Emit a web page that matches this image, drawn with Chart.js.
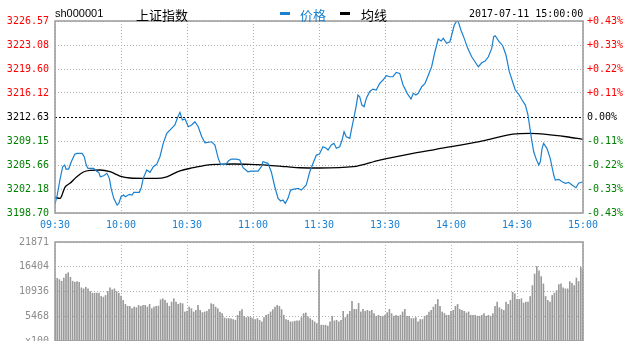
<!DOCTYPE html>
<html><head><meta charset="utf-8">
<script src="https://cdn.jsdelivr.net/npm/chart.js@4.4.1/dist/chart.umd.min.js"></script>
<style>
html,body{margin:0;padding:0;background:#fff;overflow:hidden;width:633px;height:341px;}
#wrap{position:relative;width:633px;height:341px;overflow:hidden;background:#fff;}
canvas{position:absolute;left:0;}
.t{position:absolute;white-space:nowrap;line-height:1;}
.bar{position:absolute;height:3px;width:10px;}
</style></head><body>
<div id="wrap">
<canvas id="pc" width="633" height="236" style="top:0;width:633px;height:236px"></canvas>
<canvas id="vc" width="633" height="125" style="top:230px;width:633px;height:125px"></canvas>
<div class="t" style="left:55px;top:7px;font:11px 'Liberation Sans',Arial,sans-serif;color:#000">sh000001</div>
<div class="t" style="left:136px;top:5px;font:13px 'Noto Sans CJK SC',sans-serif;color:#000">上证指数</div>
<div class="bar" style="left:280px;top:12px;background:#1a80d0"></div>
<div class="t" style="left:300px;top:5px;font:13px 'Noto Sans CJK SC',sans-serif;color:#1a80d0">价格</div>
<div class="bar" style="left:340px;top:12px;background:#000"></div>
<div class="t" style="left:361px;top:5px;font:13px 'Noto Sans CJK SC',sans-serif;color:#000">均线</div>
<div class="t" style="left:469px;top:8px;font:10px 'DejaVu Sans Mono',monospace;color:#000">2017-07-11 15:00:00</div>
</div>
<script>
// ---------- data ----------
const timeTicks = [0, 30, 60, 90, 120, 150, 180, 210, 240];
const timeLabels = ['09:30', '10:00', '10:30', '11:00', '11:30', '13:30', '14:00', '14:30', '15:00'];

const prevClose = 3212.63;
const priceTicks = [3198.70, 3202.18, 3205.66, 3209.15, 3212.63, 3216.12, 3219.60, 3223.08, 3226.57];
const priceTickLabels = ['3198.70', '3202.18', '3205.66', '3209.15', '3212.63', '3216.12', '3219.60', '3223.08', '3226.57'];
const pctTickLabels = ['-0.43%', '-0.33%', '-0.22%', '-0.11%', '0.00%', '+0.11%', '+0.22%', '+0.33%', '+0.43%'];

const priceMin = [0,1,2.4,3.5,4.4,5,6.2,7.4,9,10,12.3,13.3,14.2,15,17.6,18.8,19.9,20.6,22.1,23.6,24.7,25.5,26.7,28.2,29,30,31.2,32,33.8,35,35.8,38.3,39.2,40.1,41.7,43.2,44.7,46.2,47.7,49.2,50.8,53,54.5,55.6,56.8,57.9,59.1,60.6,62.1,63.6,65.1,66.7,68.2,71.2,72.7,74.2,75.3,77.7,78.8,80.1,82.4,84,85.5,87.7,89.2,92.3,93.8,94.5,96.8,98.3,99.9,101.4,102.6,103.6,104.7,105.9,107.1,108.2,110.5,112,114.2,115.8,117.3,118.8,120.2,121.8,123.3,124.1,125.6,126.8,127.9,129.4,130.5,131.4,132.4,134,134.7,135.8,136.7,137.7,138.5,139.5,140.5,141.5,143,144.5,146,147.6,149.1,150.6,152.1,153.6,155.1,156.7,158.2,160.1,161.8,162.9,164,165.1,166.7,168.2,169.4,171.2,172.7,174.2,175.5,176.5,178,179.5,180.3,181.5,182.6,183.3,184.5,186,187.6,189.4,190.9,192.4,194,195.5,197,198.5,199.4,200.1,201.7,203.5,205,206.5,208,209.2,210.8,212.3,213.8,215,216,216.8,217.6,218.6,219.9,220.6,221.4,222.1,223.6,225.1,226.7,227.4,229,230.5,232,233.5,235,236.8,238,240];
const priceVal = [3200.00,3201.31,3203.78,3205.42,3205.66,3205.08,3205.08,3206.14,3207.22,3207.36,3207.36,3206.87,3205.66,3205.18,3205.18,3204.79,3204.60,3203.96,3204.11,3204.46,3203.73,3202.28,3200.83,3199.86,3200.10,3201.06,3201.31,3201.06,3201.41,3201.31,3201.70,3201.70,3202.37,3203.73,3204.94,3204.60,3205.42,3205.76,3206.87,3208.81,3210.26,3210.99,3211.47,3212.44,3213.31,3212.19,3212.34,3211.22,3211.47,3211.95,3211.22,3209.77,3208.90,3209.04,3208.57,3206.63,3205.76,3205.76,3206.24,3206.53,3206.53,3206.39,3205.27,3204.69,3204.79,3204.79,3205.42,3206.14,3205.91,3204.69,3202.51,3200.83,3200.44,3200.58,3200.10,3200.83,3202.03,3202.13,3202.28,3202.03,3202.76,3204.69,3205.91,3207.11,3207.26,3208.32,3208.09,3207.84,3208.57,3208.81,3208.09,3208.32,3209.29,3210.50,3209.77,3209.54,3210.74,3212.44,3213.89,3215.82,3215.58,3214.37,3214.13,3215.34,3216.30,3216.69,3216.55,3217.52,3218.00,3218.63,3218.48,3218.48,3219.12,3218.97,3217.28,3216.07,3215.24,3216.07,3215.82,3216.07,3217.03,3217.52,3218.48,3219.93,3222.11,3223.95,3223.66,3224.05,3223.33,3223.56,3224.53,3225.98,3226.57,3226.47,3225.26,3224.05,3222.60,3221.38,3220.66,3219.93,3220.51,3220.76,3221.38,3222.60,3224.29,3224.43,3223.66,3222.98,3221.63,3219.21,3217.75,3216.55,3215.93,3215.10,3214.37,3212.92,3210.74,3209.04,3207.59,3206.63,3205.66,3206.14,3208.09,3208.81,3208.09,3206.63,3204.21,3203.48,3203.59,3203.24,3203.01,3203.15,3202.76,3202.37,3203.01,3203.24];

const avgMin = [0,2.3,4.5,6.8,9.9,12.9,15.9,20.5,25,29.5,34.1,40.1,46.2,50.8,56.8,62.9,69,75,81,88.6,96.2,105.3,111.4,120.1,135.5,147.6,162.7,180.1,196,208.2,215.8,223.3,232.4,240];
const avgVal = [3200.97,3200.83,3202.43,3203.01,3203.96,3204.65,3204.89,3204.94,3204.69,3204.07,3203.78,3203.73,3203.73,3203.96,3204.83,3205.27,3205.66,3205.76,3205.81,3205.76,3205.66,3205.42,3205.27,3205.23,3205.42,3206.39,3207.36,3208.32,3209.29,3210.16,3210.26,3210.12,3209.77,3209.39];

const volTicks = [0, 5468, 10936, 16404, 21871];
const volTickLabels = ['x100', '5468', '10936', '16404', '21871'];
const volMorning = [13341,13852,13560,13195,13925,
14799,15091,14070,13195,12977,13123,12977,11738,11519,11883,
11519,10936,10571,10571,10571,10571,9842,9696,10061,10936,
11738,11300,11519,10936,10571,9915,8967,8092,7655,7655,
7145,7509,7363,7874,7655,7874,7874,7509,8092,7145,
7509,7655,7728,9113,9332,8967,8384,7655,8603,9332,
8603,8092,8384,8238,6415,6634,7509,7145,6415,6780,
7874,6780,6270,6415,6561,6999,8238,8092,7509,7145,
6415,6051,5103,4957,4957,4884,4739,4593,5686,6561,
6926,5468,5176,5322,5176,4957,4739,4957,4593,4228,
5176,5686,5905,6415,6926,7509,7874,7655,6926,5686,
4739,4593,4228,4228,4374,4447,4447,5176,6051,6197,
5322,4957,4593,4228,3864];
const volMidday = 15747;
const volAfternoon = [3499,3499,3499,3281,4228,5468,4447,4593,4228,4593,
6561,5176,5905,6561,8748,6999,6999,8311,6415,6999,
6561,6780,6561,6780,6051,5468,5686,5468,5468,5686,
6270,6999,6051,5468,5686,5468,5686,6415,6999,5468,
5468,4957,4957,5176,4228,4739,4739,5468,5686,6415,
6780,7509,8092,9186,7655,6415,6051,5686,5686,6561,
6780,7655,8092,6999,6780,6561,6197,6415,5686,5686,
5686,5468,5468,5686,6051,5468,5686,5468,6051,7655,
8603,7363,6999,6780,8603,8092,8967,10790,10425,9186,
9186,9332,8384,8603,8603,9842,12248,14799,16476,15528,
14216,12612,9842,8967,8603,10061,10571,11154,12466,12612,
11738,11519,11519,13123,12758,12248,13925,13123,16257,15674];

// ---------- styles ----------
const BLUE = '#1a80d0';
const RED = '#ff0000';
const GREEN = '#008000';
const GRID = '#b0b0b0';
const MONO = "'DejaVu Sans Mono', 'Liberation Mono', monospace";

const frame = {
  id: 'frame',
  beforeDatasetsDraw(chart, args, opts) {
    const a = chart.chartArea, c = chart.ctx;
    if (opts.baseline !== undefined) {
      const y = Math.round(chart.scales.y.getPixelForValue(opts.baseline)) + 0.5;
      c.save();
      c.strokeStyle = '#000'; c.lineWidth = 1; c.setLineDash([2, 2]);
      c.beginPath(); c.moveTo(a.left, y); c.lineTo(a.right, y); c.stroke();
      c.restore();
    }
  },
  afterDraw(chart) {
    const a = chart.chartArea, c = chart.ctx;
    c.save();
    c.strokeStyle = '#999'; c.lineWidth = 1.5;
    c.strokeRect(a.left, a.top, a.right - a.left, a.bottom - a.top);
    c.restore();
  }
};

const fixedTicks = (vals) => (s) => { s.ticks = vals.map(v => ({ value: v })); };

const priceData = priceMin.map((m, i) => ({ x: m, y: priceVal[i] }));
const avgData = avgMin.map((m, i) => ({ x: m, y: avgVal[i] }));

new Chart(document.getElementById('pc'), {
  type: 'line',
  data: {
    datasets: [
      { data: priceData, borderColor: BLUE, borderWidth: 1.2, pointRadius: 0, tension: 0, fill: false },
      { data: avgData, borderColor: '#000', borderWidth: 1.3, pointRadius: 0, cubicInterpolationMode: 'monotone', fill: false }
    ]
  },
  options: {
    responsive: false, animation: false, devicePixelRatio: 1,
    layout: { padding: { top: 21, left: 0, right: 0, bottom: 0 } },
    plugins: { legend: { display: false }, tooltip: { enabled: false }, frame: { baseline: prevClose } },
    scales: {
      x: {
        type: 'linear', min: 0, max: 240,
        afterBuildTicks: fixedTicks(timeTicks),
        afterFit: s => { s.height = 23; },
        ticks: { autoSkip: false, maxRotation: 0, padding: 6, color: BLUE, font: { family: MONO, size: 10 },
          callback: (v, i) => timeLabels[i] },
        grid: { color: GRID, lineWidth: 1, drawTicks: false },
        border: { display: false, dash: [1, 2] }
      },
      y: {
        position: 'left', min: priceTicks[0], max: priceTicks[priceTicks.length - 1],
        afterBuildTicks: fixedTicks(priceTicks),
        afterFit: s => { s.width = 55; },
        ticks: { autoSkip: false, padding: 6, font: { family: MONO, size: 10 },
          color: ctx => ctx.index > 4 ? RED : (ctx.index === 4 ? '#000' : GREEN),
          callback: (v, i) => priceTickLabels[i] },
        grid: { color: ctx => ctx.index === 4 ? 'rgba(0,0,0,0)' : GRID, lineWidth: 1, drawTicks: false },
        border: { display: false, dash: [1, 2] }
      },
      y2: {
        position: 'right', min: priceTicks[0], max: priceTicks[priceTicks.length - 1],
        afterBuildTicks: fixedTicks(priceTicks),
        afterFit: s => { s.width = 50; },
        ticks: { autoSkip: false, padding: 4, font: { family: MONO, size: 10 },
          color: ctx => ctx.index > 4 ? RED : (ctx.index === 4 ? '#000' : GREEN),
          callback: (v, i) => pctTickLabels[i] },
        grid: { display: false, drawTicks: false },
        border: { display: false }
      }
    }
  },
  plugins: [frame]
});

const volData = [];
volMorning.forEach((v, i) => volData.push({ x: i, y: v }));
volData.push({ x: volMorning.length, y: volMidday });
volAfternoon.forEach((v, i) => volData.push({ x: volMorning.length + 1 + i, y: v }));

new Chart(document.getElementById('vc'), {
  type: 'bar',
  data: { datasets: [{ data: volData, backgroundColor: '#9a9a9a', barThickness: 1, borderWidth: 0 }] },
  options: {
    responsive: false, animation: false, devicePixelRatio: 1,
    layout: { padding: { top: 11, left: 0, right: 50, bottom: 0 } },
    plugins: { legend: { display: false }, tooltip: { enabled: false } },
    scales: {
      x: {
        type: 'linear', min: 0, max: 240, offset: false,
        afterBuildTicks: fixedTicks(timeTicks),
        afterFit: s => { s.height = 14; },
        ticks: { display: false },
        grid: { color: GRID, lineWidth: 1, drawTicks: false, offset: false },
        border: { display: false, dash: [1, 2] }
      },
      y: {
        position: 'left', min: 0, max: volTicks[volTicks.length - 1],
        afterBuildTicks: fixedTicks(volTicks),
        afterFit: s => { s.width = 55; },
        ticks: { autoSkip: false, padding: 6, color: '#8c8c8c', font: { family: MONO, size: 10 },
          callback: (v, i) => volTickLabels[i] },
        grid: { color: GRID, lineWidth: 1, drawTicks: false },
        border: { display: false, dash: [1, 2] }
      }
    }
  },
  plugins: [frame]
});
</script>
</body></html>
